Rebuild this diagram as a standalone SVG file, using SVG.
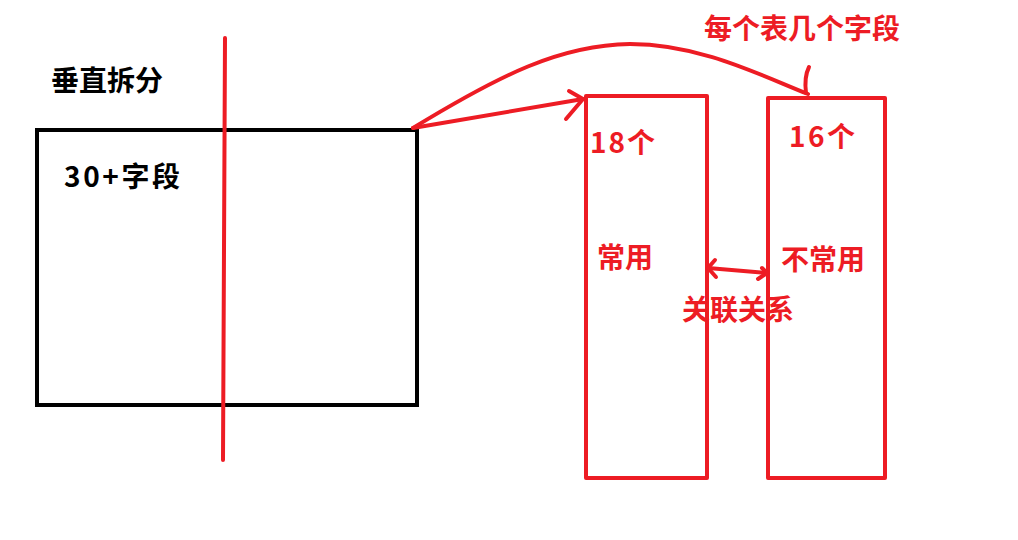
<svg xmlns="http://www.w3.org/2000/svg" width="1018" height="540" viewBox="0 0 1018 540">
<style>
.red{fill:none;stroke:#ed1c24;stroke-width:4;stroke-linecap:round;stroke-linejoin:round}
.t{font-family:"Noto Sans CJK SC","Liberation Sans",sans-serif;font-weight:bold;font-size:28px}
.rt{fill:#ed1c24}
</style>
<rect width="1018" height="540" fill="#fff"/>
<g id="source">
<rect x="37" y="130" width="380" height="275" fill="none" stroke="#000" stroke-width="4"/>
<text class="t" x="64" y="187" textLength="116">30+字段</text>
</g>
<g id="title"><text class="t" x="51" y="91">垂直拆分</text></g>
<g id="split-line"><path class="red" d="M225 38 L223 460"/></g>
<g id="table-common">
<rect x="586" y="96" width="121" height="382" class="red"/>
<text class="t rt" x="590" y="153" textLength="65">18个</text>
<text class="t rt" x="597" y="268">常用</text>
</g>
<g id="table-rare">
<rect x="768" y="98" width="117" height="380" class="red"/>
<text class="t rt" x="789" y="147" textLength="66">16个</text>
<text class="t rt" x="781" y="270">不常用</text>
</g>
<g id="labels">
<text class="t rt" x="704" y="39">每个表几个字段</text>
<text class="t rt" x="682" y="320">关联关系</text>
</g>
<g id="connectors">
<path class="red" d="M413 128 L583 99"/>
<path class="red" stroke-width="2" d="M569 91 L583 99 L566 119"/>
<path class="red" d="M413 128 C500 75 560 45 630 44 C700 44 760 75 808 94"/>
<path class="red" stroke-width="2.5" d="M809 67 C805 75 805 85 806 93"/>
<path class="red" d="M708 268 L767 273"/>
<path class="red" stroke-width="2.5" d="M715 260 L708 268 L716 277"/>
<path class="red" stroke-width="2.5" d="M758 279 L767 273 L762 268"/>
</g>
</svg>
